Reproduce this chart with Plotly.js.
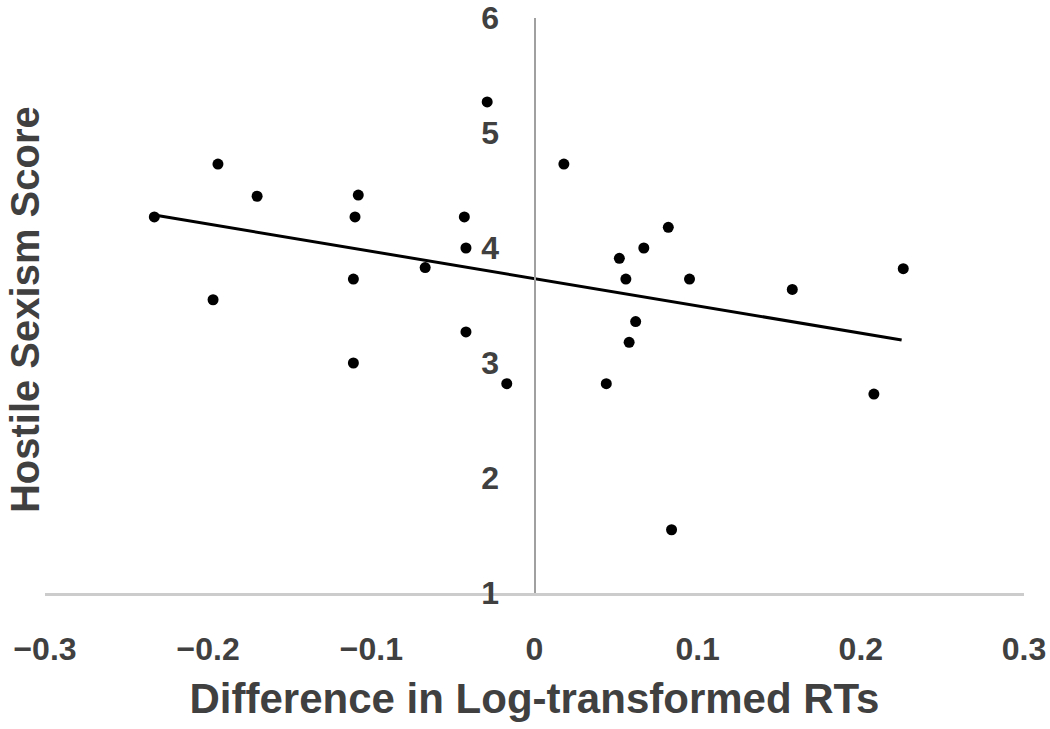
<!DOCTYPE html>
<html>
<head>
<meta charset="utf-8">
<script src="https://cdn.plot.ly/plotly-3.0.1.min.js"></script>
<style>html,body{margin:0;padding:0;background:#fff;}#chart{width:1050px;height:729px;}</style>
</head>
<body>
<div id="chart"></div>
<script>
// Difference in log-transformed RTs (x) vs Hostile Sexism Score (y)
const diffRT = [
  -0.233, -0.194, -0.170, -0.108, -0.110, -0.043, -0.042, -0.067, -0.111, -0.197,
  -0.042, -0.111, -0.017, -0.029, 0.018, 0.082, 0.067, 0.052, 0.056, 0.095,
  0.158, 0.226, 0.062, 0.058, 0.044, 0.208, 0.084
];
const hostileSexism = [
  4.27, 4.73, 4.45, 4.46, 4.27, 4.27, 4.00, 3.83, 3.73, 3.55,
  3.27, 3.00, 2.82, 5.27, 4.73, 4.18, 4.00, 3.91, 3.73, 3.73,
  3.64, 3.82, 3.36, 3.18, 2.82, 2.73, 1.55
];
// linear trend line endpoints
const trendX = [-0.233, 0.225];
const trendY = [4.287, 3.200];

const xTicks = [-0.3, -0.2, -0.1, 0, 0.1, 0.2, 0.3];
const xTickText = ['\u22120.3', '\u22120.2', '\u22120.1', '0', '0.1', '0.2', '0.3'];
const yTicks = [1, 2, 3, 4, 5, 6];

const xTitle = 'Difference in Log-transformed RTs';
const yTitle = 'Hostile Sexism Score';

const FONT = 'Liberation Sans, Arial, sans-serif';
const tickFont = {family: FONT, size: 32, color: '#404040', weight: 'bold'};
const xTitleFont = {family: FONT, size: 42, color: '#404040', weight: 'bold'};
const yTitleFont = {family: FONT, size: 40, color: '#404040', weight: 'bold'};

const traces = [
  {
    x: diffRT, y: hostileSexism, type: 'scatter', mode: 'markers',
    marker: {color: '#000000', size: 11},
    showlegend: false, hoverinfo: 'x+y'
  },
  {
    x: trendX, y: trendY, type: 'scatter', mode: 'lines',
    line: {color: '#000000', width: 3},
    showlegend: false, hoverinfo: 'skip'
  }
];

const layout = {
  width: 1050, height: 729,
  margin: {l: 45, r: 26, t: 18, b: 136},
  paper_bgcolor: '#ffffff', plot_bgcolor: '#ffffff',
  showlegend: false,
  xaxis: {
    range: [-0.3, 0.3],
    tickmode: 'array', tickvals: xTicks, ticktext: xTickText,
    tickfont: tickFont,
    ticks: '', ticklabelstandoff: 26,
    showgrid: false, zeroline: false,
    showline: true, linecolor: '#cccccc', linewidth: 3,
    title: {text: xTitle, font: xTitleFont, standoff: 18},
    automargin: false
  },
  yaxis: {
    range: [1, 6],
    anchor: 'free', position: 0.5,
    tickmode: 'array', tickvals: yTicks,
    tickfont: tickFont,
    ticks: '', ticklabelstandoff: 28,
    showgrid: false, zeroline: false,
    showline: true, linecolor: '#a0a0a0', linewidth: 2,
    automargin: false
  },
  annotations: [
    {
      text: yTitle, textangle: -90,
      xref: 'paper', yref: 'paper',
      x: (25 - 45) / 979, y: 0.492,
      xanchor: 'center', yanchor: 'middle',
      showarrow: false, font: yTitleFont
    }
  ]
};

Plotly.newPlot('chart', traces, layout, {displayModeBar: false, staticPlot: true});
</script>
</body>
</html>
